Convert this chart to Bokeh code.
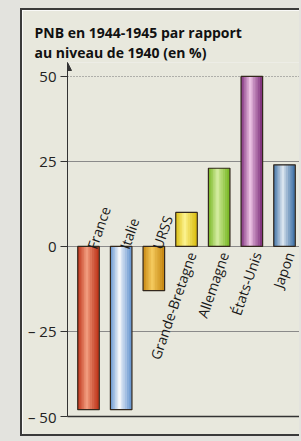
import math
from bokeh.plotting import figure
from bokeh.models import (Range1d, FixedTicker, Grid, Arrow, NormalHead,
                          ColumnDataSource, Title)
from bokeh.core.properties import value
from bokeh.embed import file_html
from bokeh.resources import INLINE

# ---------------- data ----------------
categories = ["France", "Italie", "URSS", "Grande-Bretagne", "Allemagne", "États-Unis", "Japon"]
values = [-48, -48, -13, 10, 23, 50, 24]
edge_colors = ["#c0391e", "#6e9bd2", "#c98b16", "#dcc016", "#7cb92a", "#843680", "#4676a9"]
light_colors = ["#f09a7c", "#f4f6fa", "#f3c85c", "#fbf18c", "#d2eb9e", "#eac0e2", "#d8e3ee"]
y_ticks = [-50, -25, 0, 25, 50]
y_tick_labels = ["– 50", "– 25", "0", "25", "50"]
title_lines = ["PNB en 1944-1945 par rapport", "au niveau de 1940 (en %)"]

FONT = "Open Sans"
BG = "#e8e8dd"
DARK = "#333333"


def mix(c1, c2, t):
    a = [int(c1[i:i + 2], 16) for i in (1, 3, 5)]
    b = [int(c2[i:i + 2], 16) for i in (1, 3, 5)]
    return "#" + "".join("%02x" % round(a[k] + (b[k] - a[k]) * t) for k in range(3))


idx = list(range(len(categories)))
x_start, x_end = -0.643, 6.52
y_bottom, y_top = -50, 54.1

p = figure(width=279, height=428, output_backend="svg", toolbar_location=None,
           x_range=Range1d(x_start, x_end), y_range=Range1d(y_bottom, y_top),
           min_border_left=45, min_border_right=0, min_border_top=52, min_border_bottom=22)
p.margin = (8, 0, 0, 20)
p.styles = {"border-left": "2px solid #3a3a3a", "border-top": "2px solid #3a3a3a",
            "border-bottom": "2px solid #3a3a3a", "box-shadow": "0 0 0 24px #e3e3de"}
p.background_fill_color = BG
p.border_fill_color = BG
p.outline_line_color = None

# grid
p.xgrid.visible = False
p.ygrid.ticker = FixedTicker(ticks=[t for t in y_ticks if abs(t) < 50])
p.ygrid.grid_line_color = "#8a8a8a"
p.ygrid.grid_line_width = 1
top_grid = Grid(dimension=1, ticker=FixedTicker(ticks=[y_ticks[-1]]),
                grid_line_color="#777777", grid_line_dash="1 2", grid_line_width=1)
p.add_layout(top_grid)

# axes
p.yaxis.ticker = FixedTicker(ticks=y_ticks)
p.yaxis.major_label_overrides = {t: l for t, l in zip(y_ticks, y_tick_labels)}
p.yaxis.major_tick_out = 7
p.yaxis.major_tick_in = 0
p.yaxis.minor_tick_line_color = None
p.yaxis.major_label_text_font = FONT
p.yaxis.major_label_text_font_size = "15px"
p.yaxis.major_label_text_color = "#222222"
p.yaxis.major_label_standoff = 4
p.yaxis.axis_line_color = DARK
p.yaxis.major_tick_line_color = DARK

p.xaxis.ticker = FixedTicker(ticks=[])
p.xaxis.major_tick_line_color = None
p.xaxis.minor_tick_line_color = None
p.xaxis.major_label_text_font_size = "0px"
p.xaxis.axis_line_color = DARK
p.xaxis.axis_line_width = 1.3

# axis arrow
p.add_layout(Arrow(end=NormalHead(size=8, fill_color=DARK, line_color=DARK),
                   x_start=x_start, y_start=y_ticks[-1] - 3, x_end=x_start, y_end=y_top,
                   line_color=DARK, line_width=1))

# bars: cylinder shading via layered bars
widths = [0.66, 0.54, 0.42, 0.30, 0.18, 0.08]
shift = [0.0, -0.02, -0.03, -0.04, -0.05, -0.05]
for k, (w, s) in enumerate(zip(widths, shift)):
    t = k / (len(widths) - 1)
    src = ColumnDataSource(dict(x=[i + s for i in idx], top=values, bottom=[0] * len(values),
                                color=[mix(e, l, t) for e, l in zip(edge_colors, light_colors)]))
    p.vbar(x="x", top="top", bottom="bottom", width=w, source=src,
           fill_color="color", line_color=None)
p.vbar(x=idx, top=values, bottom=[0] * len(values), width=0.66,
       fill_color=None, line_color="#33281d", line_width=1.2)

# category labels at the zero line
neg = [i for i in idx if values[i] < 0]
pos = [i for i in idx if values[i] >= 0]
ang = math.radians(71)
p.text(x=neg, y=[0] * len(neg), text=[categories[i] for i in neg], angle=ang,
       text_align="left", text_baseline="alphabetic", x_offset=3, y_offset=2,
       text_font=value(FONT), text_font_size="14px", text_color="#1a1a1a")
p.text(x=pos, y=[0] * len(pos), text=[categories[i] for i in pos], angle=ang,
       text_align="right", text_baseline="alphabetic", x_offset=5, y_offset=6,
       text_font=value(FONT), text_font_size="14px", text_color="#1a1a1a")

# title (two lines)
p.add_layout(Title(text="\n".join(title_lines), align="left", offset=-33, standoff=1,
                   text_font=FONT, text_font_style="bold", text_font_size="14px",
                   text_line_height=1.05, text_color="#111111"), "above")

open("out.html", "w").write(file_html(p, INLINE))
